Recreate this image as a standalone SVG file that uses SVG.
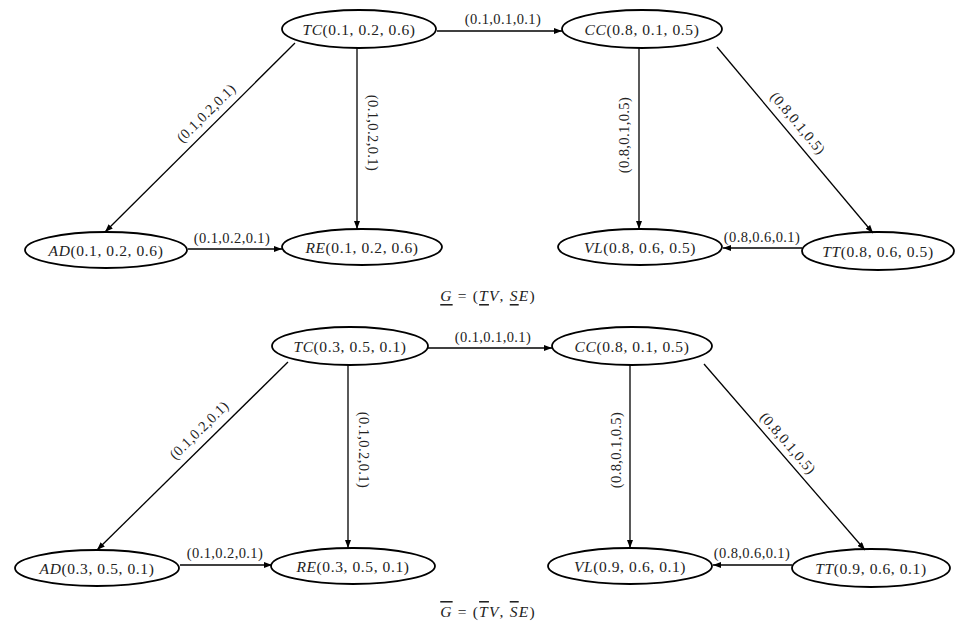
<svg xmlns="http://www.w3.org/2000/svg" width="955" height="626" viewBox="0 0 955 626">
<style>
.n{fill:none;stroke:#000;stroke-width:1.8}
.t{font-family:"Liberation Serif",serif;font-size:15.5px;letter-spacing:0.6px;fill:#222;text-anchor:middle;dominant-baseline:central}
.i{font-style:italic}
.e{stroke:#000;stroke-width:1.3;fill:none;marker-end:url(#ah)}
.l{font-family:"Liberation Serif",serif;font-size:14.5px;letter-spacing:0.4px;fill:#222;text-anchor:middle;dominant-baseline:central}
.c{font-family:"Liberation Serif",serif;font-size:15.5px;letter-spacing:1.2px;fill:#222;text-anchor:middle;dominant-baseline:central}
</style>
<defs>
<marker id="ah" markerWidth="8" markerHeight="6" refX="8" refY="3" orient="auto" markerUnits="userSpaceOnUse">
<path d="M0,0 L8,3 L0,6 Z" fill="#000"/>
</marker>
</defs>
<rect width="955" height="626" fill="#fff"/>
<g id="connectors">
<line class="e" x1="437" y1="31" x2="562" y2="31"/>
<line class="e" x1="295" y1="43" x2="105" y2="232"/>
<line class="e" x1="357" y1="48" x2="357" y2="229"/>
<line class="e" x1="188" y1="249" x2="282" y2="249"/>
<line class="e" x1="639" y1="48" x2="639" y2="229"/>
<line class="e" x1="717" y1="47" x2="873" y2="233"/>
<line class="e" x1="802" y1="248" x2="723" y2="248"/>
<line class="e" x1="427" y1="348" x2="552" y2="348"/>
<line class="e" x1="288" y1="362" x2="97" y2="550"/>
<line class="e" x1="348" y1="365" x2="348" y2="548"/>
<line class="e" x1="180" y1="565" x2="272" y2="565"/>
<line class="e" x1="630" y1="365" x2="630" y2="548"/>
<line class="e" x1="704" y1="364" x2="865" y2="550"/>
<line class="e" x1="792" y1="565" x2="713" y2="565"/>
<text class="l" x="503" y="19">(0.1,0.1,0.1)</text>
<text class="l" transform="translate(206,113) rotate(-44.8)">(0.1,0.2,0.1)</text>
<text class="l" transform="translate(373,133) rotate(90)">(0.1,0.2,0.1)</text>
<text class="l" x="232" y="238">(0.1,0.2,0.1)</text>
<text class="l" transform="translate(624,135) rotate(-90)">(0.8,0.1,0.5)</text>
<text class="l" transform="translate(798,123) rotate(50)">(0.8,0.1,0.5)</text>
<text class="l" x="762" y="237">(0.8,0.6,0.1)</text>
<text class="l" x="493" y="337">(0.1,0.1,0.1)</text>
<text class="l" transform="translate(199,430) rotate(-44.5)">(0.1,0.2,0.1)</text>
<text class="l" transform="translate(364,450) rotate(90)">(0.1,0.2,0.1)</text>
<text class="l" x="225" y="553">(0.1,0.2,0.1)</text>
<text class="l" transform="translate(616,450) rotate(-90)">(0.8,0.1,0.5)</text>
<text class="l" transform="translate(788,443) rotate(49)">(0.8,0.1,0.5)</text>
<text class="l" x="752" y="553">(0.8,0.6,0.1)</text>
</g>
<g id="TC1"><ellipse class="n" cx="359" cy="29" rx="77" ry="19"/><text class="t" x="359" y="29"><tspan class="i">TC</tspan>(0.1, 0.2, 0.6)</text></g>
<g id="CC1"><ellipse class="n" cx="642" cy="29" rx="80" ry="19"/><text class="t" x="642" y="29"><tspan class="i">CC</tspan>(0.8, 0.1, 0.5)</text></g>
<g id="AD1"><ellipse class="n" cx="106" cy="250" rx="81" ry="18"/><text class="t" x="106" y="250"><tspan class="i">AD</tspan>(0.1, 0.2, 0.6)</text></g>
<g id="RE1"><ellipse class="n" cx="362" cy="247" rx="80" ry="18"/><text class="t" x="362" y="247"><tspan class="i">RE</tspan>(0.1, 0.2, 0.6)</text></g>
<g id="VL1"><ellipse class="n" cx="640" cy="247" rx="82" ry="18"/><text class="t" x="640" y="247"><tspan class="i">VL</tspan>(0.8, 0.6, 0.5)</text></g>
<g id="TT1"><ellipse class="n" cx="878" cy="251" rx="76" ry="19"/><text class="t" x="878" y="251"><tspan class="i">TT</tspan>(0.8, 0.6, 0.5)</text></g>
<g id="TC2"><ellipse class="n" cx="350" cy="346" rx="78" ry="19"/><text class="t" x="350" y="346"><tspan class="i">TC</tspan>(0.3, 0.5, 0.1)</text></g>
<g id="CC2"><ellipse class="n" cx="632" cy="346" rx="80" ry="19"/><text class="t" x="632" y="346"><tspan class="i">CC</tspan>(0.8, 0.1, 0.5)</text></g>
<g id="AD2"><ellipse class="n" cx="97" cy="568" rx="82" ry="18"/><text class="t" x="97" y="568"><tspan class="i">AD</tspan>(0.3, 0.5, 0.1)</text></g>
<g id="RE2"><ellipse class="n" cx="353" cy="566" rx="82" ry="18"/><text class="t" x="353" y="566"><tspan class="i">RE</tspan>(0.3, 0.5, 0.1)</text></g>
<g id="VL2"><ellipse class="n" cx="630" cy="566" rx="82" ry="18"/><text class="t" x="630" y="566"><tspan class="i">VL</tspan>(0.9, 0.6, 0.1)</text></g>
<g id="TT2"><ellipse class="n" cx="871" cy="568" rx="79" ry="19"/><text class="t" x="871" y="568"><tspan class="i">TT</tspan>(0.9, 0.6, 0.1)</text></g>
<g id="captions">
<text class="c" x="488" y="295"><tspan class="i" text-decoration="underline">G</tspan> = (<tspan class="i" text-decoration="underline">T</tspan><tspan class="i">V</tspan>, <tspan class="i" text-decoration="underline">S</tspan><tspan class="i">E</tspan>)</text>
<text class="c" x="488" y="611"><tspan class="i" text-decoration="overline">G</tspan> = (<tspan class="i" text-decoration="overline">T</tspan><tspan class="i">V</tspan>, <tspan class="i" text-decoration="overline">S</tspan><tspan class="i">E</tspan>)</text>
</g>
</svg>
